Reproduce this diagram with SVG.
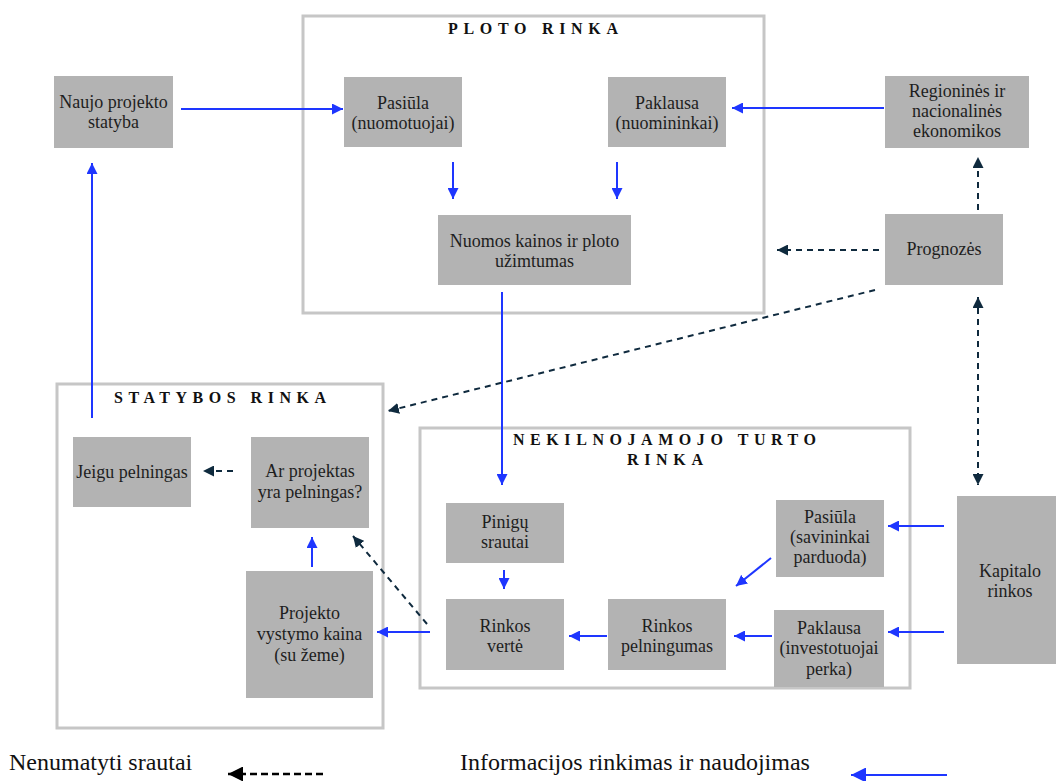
<svg xmlns="http://www.w3.org/2000/svg" width="1056" height="781" viewBox="0 0 1056 781">
  <defs>
    <marker id="head-blue" viewBox="0 0 10 10" refX="10" refY="5" markerWidth="11" markerHeight="11" markerUnits="userSpaceOnUse" orient="auto-start-reverse">
      <path d="M0,0 L10,5 L0,10 z" fill="#1e36ff"/>
    </marker>
    <marker id="head-dark" viewBox="0 0 10 10" refX="10" refY="5" markerWidth="11" markerHeight="11" markerUnits="userSpaceOnUse" orient="auto-start-reverse">
      <path d="M0,0 L10,5 L0,10 z" fill="#0f2a3e"/>
    </marker>
    <marker id="legend-blue" viewBox="0 0 10 10" refX="10" refY="5" markerWidth="17" markerHeight="15" markerUnits="userSpaceOnUse" orient="auto">
      <path d="M0,0 L10,5 L0,10 z" fill="#1e36ff"/>
    </marker>
    <marker id="legend-dark" viewBox="0 0 10 10" refX="10" refY="5" markerWidth="17" markerHeight="15" markerUnits="userSpaceOnUse" orient="auto">
      <path d="M0,0 L10,5 L0,10 z" fill="#000"/>
    </marker>
  </defs>
  <style>
    text { font-family: 'Liberation Serif', 'DejaVu Serif', serif; }
    .frame { fill: none; stroke: #c6c6c6; stroke-width: 3; }
    .box { fill: #b3b3b3; }
    .lbl { font-size: 18px; fill: #1e1e1e; text-anchor: middle; }
    .title { font-size: 16px; font-weight: bold; fill: #111; }
    .legend { font-size: 24px; fill: #111; }
    .info { fill: none; stroke: #1e36ff; stroke-width: 2; marker-end: url(#head-blue); }
    .flow { fill: none; stroke: #0f2a3e; stroke-width: 2; stroke-dasharray: 6 5; marker-end: url(#head-dark); }
  </style>

  <rect width="1056" height="781" fill="#fff"/>

  <!-- market frames -->
  <g id="ploto-rinka">
    <rect class="frame" x="303" y="16" width="461" height="297"/>
    <text class="title" x="448" y="34" textLength="170" lengthAdjust="spacing">PLOTO RINKA</text>
  </g>
  <g id="statybos-rinka">
    <rect class="frame" x="57" y="384" width="326" height="344"/>
    <text class="title" x="114" y="403" textLength="212" lengthAdjust="spacing">STATYBOS RINKA</text>
  </g>
  <g id="nt-rinka">
    <rect class="frame" x="420" y="428" width="490" height="260"/>
    <text class="title" x="513" y="445" textLength="303" lengthAdjust="spacing">NEKILNOJAMOJO TURTO</text>
    <text class="title" x="627" y="465" textLength="76" lengthAdjust="spacing">RINKA</text>
  </g>

  <!-- nodes -->
  <g id="naujo-projekto">
    <rect class="box" x="54" y="76" width="119" height="72"/>
    <text class="lbl" x="113.5" y="108">Naujo projekto</text>
    <text class="lbl" x="113.5" y="128">statyba</text>
  </g>
  <g id="pasiula-nuoma">
    <rect class="box" x="344" y="77" width="118" height="70"/>
    <text class="lbl" x="403" y="109">Pasiūla</text>
    <text class="lbl" x="403" y="129">(nuomotuojai)</text>
  </g>
  <g id="paklausa-nuoma">
    <rect class="box" x="608" y="77" width="118" height="70"/>
    <text class="lbl" x="667" y="109">Paklausa</text>
    <text class="lbl" x="667" y="129">(nuomininkai)</text>
  </g>
  <g id="regionines">
    <rect class="box" x="885" y="76" width="144" height="72"/>
    <text class="lbl" x="957" y="97">Regioninės ir</text>
    <text class="lbl" x="957" y="117">nacionalinės</text>
    <text class="lbl" x="957" y="137">ekonomikos</text>
  </g>
  <g id="nuomos-kainos">
    <rect class="box" x="438" y="215" width="193" height="70"/>
    <text class="lbl" x="534.5" y="247">Nuomos kainos ir ploto</text>
    <text class="lbl" x="534.5" y="267">užimtumas</text>
  </g>
  <g id="prognozes">
    <rect class="box" x="885" y="214" width="118" height="71"/>
    <text class="lbl" x="944" y="255">Prognozės</text>
  </g>
  <g id="jeigu-pelningas">
    <rect class="box" x="73" y="437" width="118" height="70"/>
    <text class="lbl" x="132" y="478">Jeigu pelningas</text>
  </g>
  <g id="ar-pelningas">
    <rect class="box" x="251" y="437" width="118" height="91"/>
    <text class="lbl" x="310" y="477">Ar projektas</text>
    <text class="lbl" x="310" y="498">yra pelningas?</text>
  </g>
  <g id="projekto-kaina">
    <rect class="box" x="246" y="571" width="127" height="127"/>
    <text class="lbl" x="309.5" y="619">Projekto</text>
    <text class="lbl" x="309.5" y="640">vystymo kaina</text>
    <text class="lbl" x="309.5" y="661">(su žeme)</text>
  </g>
  <g id="pinigu-srautai">
    <rect class="box" x="446" y="503" width="118" height="60"/>
    <text class="lbl" x="505" y="528">Pinigų</text>
    <text class="lbl" x="505" y="548">srautai</text>
  </g>
  <g id="rinkos-verte">
    <rect class="box" x="446" y="599" width="118" height="71"/>
    <text class="lbl" x="505" y="632">Rinkos</text>
    <text class="lbl" x="505" y="652">vertė</text>
  </g>
  <g id="rinkos-pelningumas">
    <rect class="box" x="608" y="599" width="118" height="71"/>
    <text class="lbl" x="667" y="632">Rinkos</text>
    <text class="lbl" x="667" y="652">pelningumas</text>
  </g>
  <g id="pasiula-savininkai">
    <rect class="box" x="776" y="500" width="108" height="77"/>
    <text class="lbl" x="830" y="523">Pasiūla</text>
    <text class="lbl" x="830" y="543">(savininkai</text>
    <text class="lbl" x="830" y="563">parduoda)</text>
  </g>
  <g id="paklausa-investuotojai">
    <rect class="box" x="774" y="610" width="110" height="77"/>
    <text class="lbl" x="829" y="634">Paklausa</text>
    <text class="lbl" x="829" y="654">(investotuojai</text>
    <text class="lbl" x="829" y="675">perka)</text>
  </g>
  <g id="kapitalo-rinkos">
    <rect class="box" x="957" y="496" width="106" height="168"/>
    <text class="lbl" x="1010" y="577">Kapitalo</text>
    <text class="lbl" x="1010" y="597">rinkos</text>
  </g>

  <!-- connectors -->
  <g id="connectors">
    <path class="info" d="M181,109 L343,109"/>
    <path class="info" d="M884,108 L732,108"/>
    <path class="info" d="M453,162 L453,199"/>
    <path class="info" d="M617,162 L617,199"/>
    <path class="info" d="M502,292 L502,485"/>
    <path class="info" d="M504,570 L504,589"/>
    <path class="info" d="M607,636 L569,636"/>
    <path class="info" d="M772,636 L734,636"/>
    <path class="info" d="M771,558 L736,586"/>
    <path class="info" d="M944,526 L888,526"/>
    <path class="info" d="M944,632 L888,632"/>
    <path class="info" d="M430,632 L377,632"/>
    <path class="info" d="M312,567 L312,537"/>
    <path class="info" d="M92,418 L92,163"/>

    <path class="flow" d="M233,471 L203,471"/>
    <path class="flow" d="M427,624 L353,536"/>
    <path class="flow" d="M879,250 L777,250"/>
    <path class="flow" d="M978,210 L978,157"/>
    <path class="flow" d="M875,290 L388,411"/>
    <path class="flow" d="M978,297 L978,485" marker-start="url(#head-dark)"/>
  </g>

  <!-- legend -->
  <g id="legend">
    <text class="legend" x="9" y="770">Nenumatyti srautai</text>
    <path d="M323,774 L228,774" fill="none" stroke="#000" stroke-width="2.5" stroke-dasharray="7 4" marker-end="url(#legend-dark)"/>
    <text class="legend" x="460" y="770">Informacijos rinkimas ir naudojimas</text>
    <path d="M947,775 L851,775" fill="none" stroke="#1e36ff" stroke-width="2" marker-end="url(#legend-blue)"/>
  </g>
</svg>
